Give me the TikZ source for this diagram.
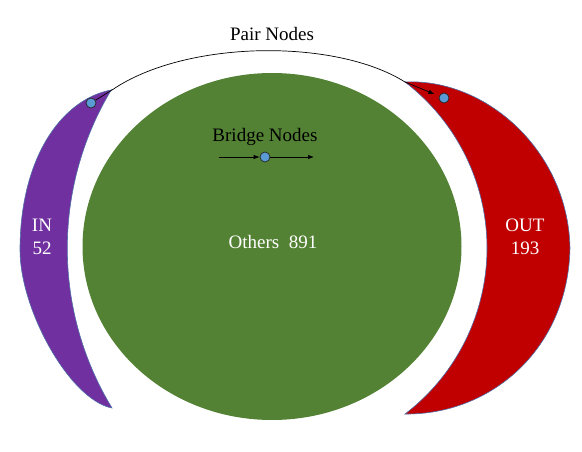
\documentclass[tikz,border=0pt]{standalone}
\usepackage{fontspec}
\setmainfont{Liberation Serif}
\newfontfamily\tnr{Liberation Serif}
\usetikzlibrary{arrows.meta}
\definecolor{cpurple}{HTML}{7030A0}
\definecolor{cred}{HTML}{C00000}
\definecolor{cgreen}{HTML}{548235}
\definecolor{cdot}{HTML}{5B9BD5}
\definecolor{cedge}{HTML}{4F6FA8}
\begin{document}
\begin{tikzpicture}[x=1pt,y=1pt,
  crescent/.style={draw=cedge,line width=0.6pt},
  dotnode/.style={circle,fill=cdot,draw=black!85,line width=0.7pt,minimum size=10pt,inner sep=0pt},
  lbl/.style={font=\tnr\fontsize{19}{23}\selectfont,inner sep=0pt,align=center},
  wlbl/.style={lbl,text=white},
  conn/.style={line width=0.7pt,draw=black},
  tip/.style={-{Latex[length=6pt,width=4.5pt]}}
]
\useasboundingbox (0,0) rectangle (582,451);
% IN crescent
\path[crescent,fill=cpurple] (111,361) .. controls (60,351) and (20,291) .. (20,201)
  .. controls (20,141) and (70,51) .. (112,43)
  arc[start angle=211.28,end angle=148.97,radius=307.5] -- cycle;
% OUT crescent
\path[crescent,fill=cred] (405,369) .. controls (485,373) and (568,301) .. (570,203)
  .. controls (568,101) and (490,36) .. (405,37)
  arc[start angle=-52.58,end angle=52.58,radius=209] -- cycle;
% Others
\fill[cgreen] (272,204.5) ellipse[x radius=189.5,y radius=173.5];
% labels
\node[wlbl] (inlbl) at (42,214) {IN\\52};
\node[wlbl] (outlbl) at (525,214) {OUT\\193};
\node[wlbl] (others) at (273,209) {Others\hspace{0.5em}891};
\node[lbl] (pair) at (272,417) {Pair Nodes};
\node[lbl] (bridge) at (265,314) {Bridge Nodes};
% dots
\node[dotnode] (pdot) at (91,348) {};
\node[dotnode] (rdot) at (444,353) {};
\node[dotnode] (bdot) at (265,294) {};
\coordinate (k1) at (112,361);
\coordinate (k2) at (405,369);
\coordinate (bl) at (219,294);
\coordinate (br) at (314,294);
% pair connector
\draw[conn] (pdot) -- (k1) .. controls (185,411) and (335,413) .. (k2);
\draw[conn,tip,shorten >=5pt] (k2) -- (rdot);
% bridge connectors
\draw[conn,tip] (bl) -- (bdot);
\draw[conn,tip] (bdot) -- (br);
\end{tikzpicture}
\end{document}
